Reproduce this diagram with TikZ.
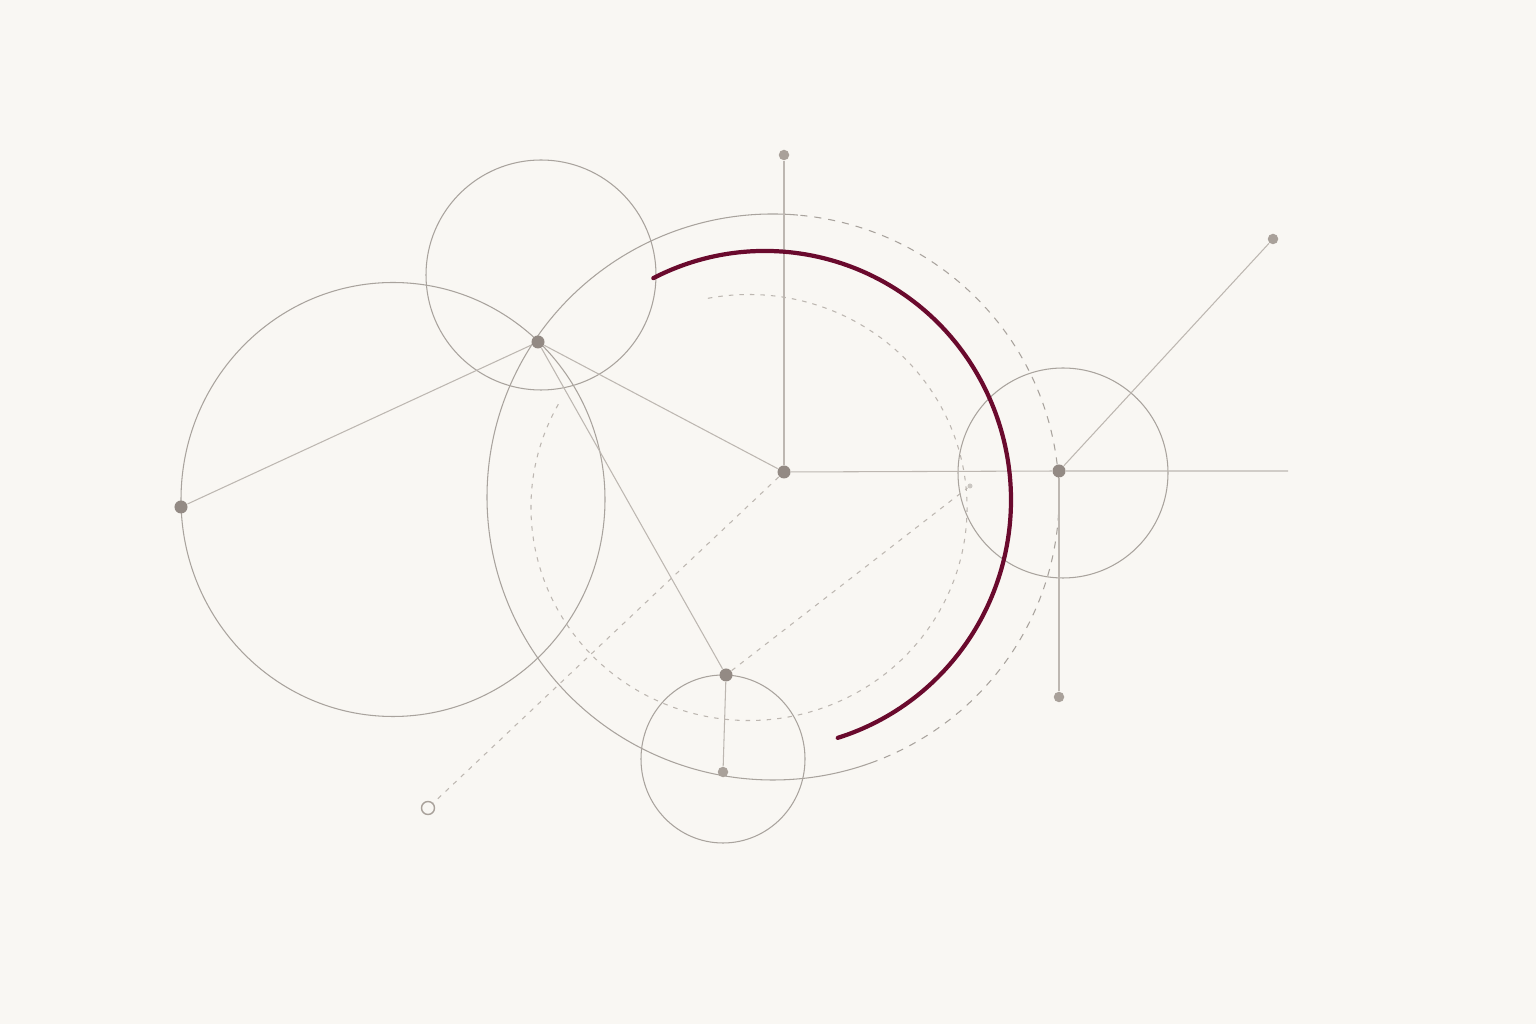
\documentclass[tikz,border=0pt]{standalone}
\usepackage{xcolor}
\usepackage{tikz}
\usetikzlibrary{arrows.meta}
\definecolor{paper}{HTML}{F9F7F3}
\definecolor{guide}{HTML}{BDB7B1}
\definecolor{ring}{HTML}{A9A39D}
\definecolor{pin}{HTML}{938A84}
\definecolor{pinlight}{HTML}{A9A19A}
\definecolor{wine}{HTML}{6A0A2D}
\tikzset{
  guideline/.style={guide, line width=0.3pt},
  guidedash/.style={guide, line width=0.3pt, dash pattern=on 1.3pt off 1.7pt},
  ringline/.style={ring, line width=0.3pt},
  pinbig/.style={circle, fill=pin, inner sep=0pt, minimum size=1.3mm},
  pinsmall/.style={circle, fill=pinlight, inner sep=0pt, minimum size=1.05mm},
}

\begin{document}
\begin{tikzpicture}[x=0.01cm,y=0.01cm]
      \fill[paper] (0,0) rectangle (1536,1024);
      \useasboundingbox (0,0) rectangle (1536,1024);
      % circles
      \draw[ringline] (541,749) circle (115);
      \draw[ringline] (393,524.5) ellipse (212 and 217);
      \draw[ringline] (1063,551) circle (105);
      \draw[ringline] (723,265) ellipse (82 and 84);
      \draw[ringline] (773,527) ++(85:286 and 283) arc (85:290:286 and 283);
      \draw[ring, line width=0.3pt, dash pattern=on 2pt off 2pt] (773,527) ++(-70:286 and 283) arc (-70:85:286 and 283);
      \draw[guidedash] (749,516.5) ++(151:218 and 213) arc (151:461:218 and 213);
      % points
      \node[pinbig] (hub) at (784,552) {};
      \node[pinbig] (apex) at (538,682) {};
      \node[pinbig] (west) at (181,517) {};
      \node[pinbig] (east) at (1059,553) {};
      \node[pinbig] (foot) at (726,349) {};
      \node[pinsmall] (low) at (723,252) {};
      \node[pinsmall] (north) at (784,869) {};
      \node[pinsmall] (ne) at (1273,785) {};
      \node[pinsmall] (south) at (1059,327) {};
      \node[circle, draw=pinlight, line width=0.4pt, fill=paper, inner sep=0pt, minimum size=1.3mm] (open) at (428,216) {};
      \node[circle, fill=pinlight!60, inner sep=0pt, minimum size=0.5mm] (mark) at (970,538) {};
      \coordinate (tail) at (1288,553);
      % construction lines
      \draw[guideline] (west) -- (apex);
      \draw[guideline] (apex) -- (hub);
      \draw[guideline] (apex) -- (foot);
      \draw[guideline] (foot) -- (low);
      \draw[guideline] (north) -- (hub);
      \draw[guideline] (hub) -- (east) -- (tail);
      \draw[guideline] (east) -- (ne);
      \draw[guideline] (east) -- (south);
      \draw[guidedash] (hub) -- (open);
      \draw[guidedash] (foot) -- (mark);
      % highlighted arc
      \draw[wine, line width=1.2pt, line cap=round] (765,524) ++(117:246 and 249) arc (117:-72.8:246 and 249);
\end{tikzpicture}
\end{document}
